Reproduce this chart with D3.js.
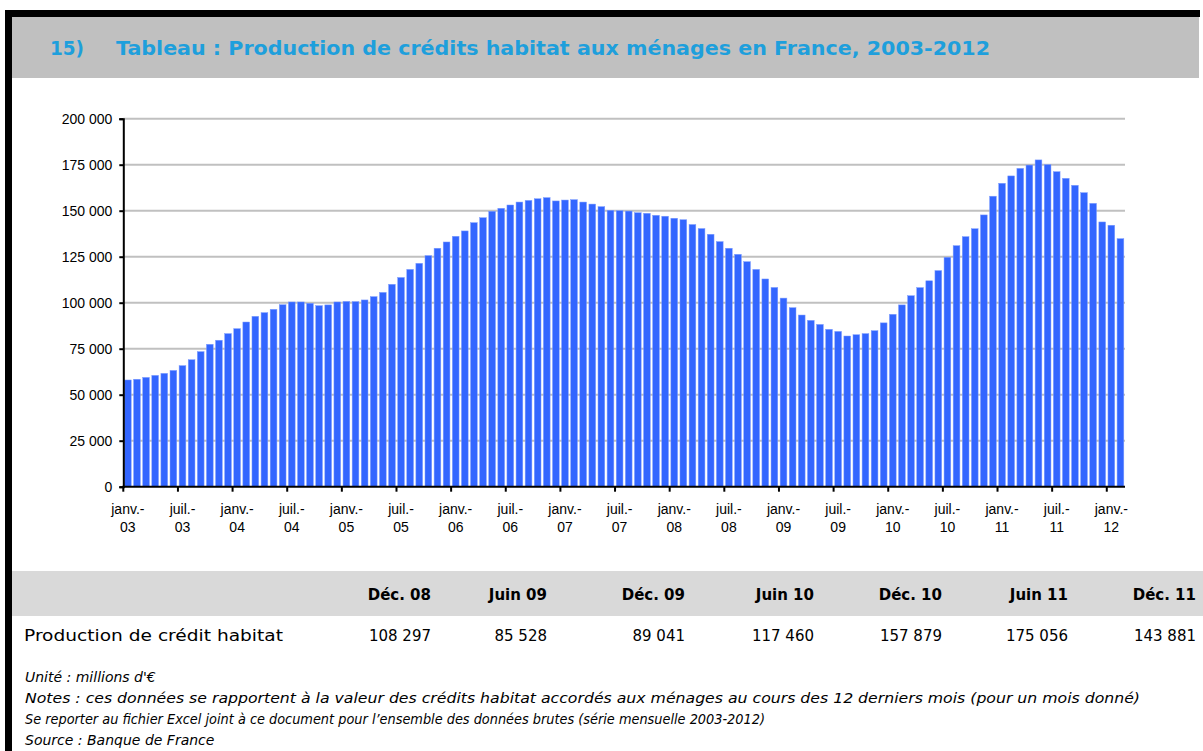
<!DOCTYPE html>
<html>
<head>
<meta charset="utf-8">
<script src="https://cdn.jsdelivr.net/npm/d3@7"></script>
<style>
  body { margin: 0; background: #fff; }
  svg { display: block; }
</style>
</head>
<body>
<svg id="chart" width="1203" height="751"></svg>
<script>
// categories : one bar per month, janv. 2003 -> févr. 2012
const years = ["03", "04", "05", "06", "07", "08", "09", "10", "11", "12"];
const monthNames = ["janv.", "févr.", "mars", "avr.", "mai", "juin", "juil.", "août", "sept.", "oct.", "nov.", "déc."];
const lastYearMonths = 2;

// production de crédit habitat (millions d'€, cumul 12 mois)
const values = [
  58000, 58400, 59400, 60500, 61600, 63200, 65800, 69000, 73400, 77400, 79600, 83200,
  85900, 89500, 92600, 94600, 96400, 98900, 100400, 100400, 99700, 98400, 98800, 100400,
  100700, 100600, 101500, 103300, 105600, 110000, 113700, 118100, 121400, 125600, 129600, 133000,
  136100, 139000, 143500, 146200, 149700, 151300, 153100, 154700, 155600, 156500, 157100, 155300,
  155800, 156000, 154700, 153600, 152200, 150200, 150000, 149800, 148900, 148600, 147500, 147000,
  145900, 145100, 142500, 140300, 137200, 133200, 129600, 126300, 122300, 118100, 112900, 108297,
  102500, 97300, 93300, 90400, 88200, 85528, 84400, 81900, 82600, 83200, 84800, 89041,
  93700, 98800, 103800, 108200, 111900, 117460, 124700, 131000, 135900, 140200, 147700, 157879,
  164900, 168900, 173000, 174800, 177600, 175056, 171200, 167600, 163800, 159800, 154000, 143881,
  142100, 134800
];

const yTicks = [0, 25000, 50000, 75000, 100000, 125000, 150000, 175000, 200000];

// table under the chart
const tableHeads = ["Déc. 08", "Juin 09", "Déc. 09", "Juin 10", "Déc. 10", "Juin 11", "Déc. 11"];
const tableValues = ["108 297", "85 528", "89 041", "117 460", "157 879", "175 056", "143 881"];
const tableRowLabel = "Production de crédit habitat";

const titleNum = "15)";
const titleText = "Tableau : Production de crédits habitat aux ménages en France, 2003-2012";
const notes = [
  "Unité : millions d'€",
  "Notes : ces données se rapportent à la valeur des crédits habitat accordés aux ménages au cours des 12 derniers mois (pour un mois donné)",
  "Se reporter au fichier Excel joint à ce document pour l’ensemble des données brutes (série mensuelle 2003-2012)",
  "Source : Banque de France"
];

// build month keys
let months = [];
years.forEach(function(y, i) {
  let n = (i === years.length - 1) ? lastYearMonths : 12;
  for (let m = 0; m < n; m++) months.push({key: y + "-" + m, year: y, m: m});
});
let data = months.map(function(d, i) { return {key: d.key, year: d.year, m: d.m, value: values[i]}; });

const svg = d3.select("#chart");
const baseFont = "'Liberation Sans', Arial, sans-serif";
const gothic = "'DejaVu Sans', 'Noto Sans', sans-serif";

// frame + title band
svg.append("rect").attr("x", 5).attr("y", 10).attr("width", 1195).attr("height", 7).attr("fill", "#000");
svg.append("rect").attr("x", 5).attr("y", 10).attr("width", 7).attr("height", 741).attr("fill", "#000");
svg.append("rect").attr("x", 12).attr("y", 17).attr("width", 1187).attr("height", 61).attr("fill", "#c0c0c0");
svg.append("text").attr("x", 50).attr("y", 55)
  .attr("font-family", gothic).attr("font-weight", "bold").attr("font-size", 19)
  .attr("fill", "#1e9fdc").attr("textLength", 34).attr("lengthAdjust", "spacingAndGlyphs")
  .text(titleNum);
svg.append("text").attr("x", 116).attr("y", 55)
  .attr("font-family", gothic).attr("font-weight", "bold").attr("font-size", 19)
  .attr("fill", "#1e9fdc").attr("textLength", 874).attr("lengthAdjust", "spacingAndGlyphs")
  .text(titleText);

// chart
const x = d3.scaleBand().domain(data.map(d => d.key)).range([123.3, 1125])
  .paddingInner(0.26).paddingOuter(0.13);
const y = d3.scaleLinear().domain([0, 200000]).range([486.7, 118.7]);
const half = (x.step() - x.bandwidth()) / 2;

const plot = svg.append("g");

plot.selectAll("line.grid").data(yTicks.filter(d => d > 0)).enter().append("line")
  .attr("class", "grid")
  .attr("x1", 123.3).attr("x2", 1125)
  .attr("y1", d => y(d)).attr("y2", d => y(d))
  .attr("stroke", "#c0c0c0").attr("stroke-width", 2);

plot.selectAll("rect.bar").data(data).enter().append("rect")
  .attr("class", "bar")
  .attr("x", d => x(d.key))
  .attr("width", x.bandwidth())
  .attr("y", d => y(d.value))
  .attr("height", d => y(0) - y(d.value))
  .attr("fill", "#3366ff")
  .attr("stroke", "#7f9dff").attr("stroke-width", 0.5);

// y axis
const yAxis = d3.axisLeft(y).tickValues(yTicks).tickSize(4).tickPadding(7)
  .tickFormat(d => d3.format(",")(d).replace(/,/g, " "));
const yg = svg.append("g").attr("transform", "translate(123.3,0)").call(yAxis);
yg.select(".domain").attr("stroke", "#000").attr("stroke-width", 2);
yg.selectAll(".tick line").attr("stroke", "#000").attr("stroke-width", 2);
yg.selectAll(".tick text").attr("font-family", baseFont).attr("font-size", 14).attr("fill", "#000");

// x axis : ticks on category boundaries every 6 months
svg.append("line").attr("x1", 122.3).attr("x2", 1125).attr("y1", y(0)).attr("y2", y(0))
  .attr("stroke", "#000").attr("stroke-width", 2);
const labelled = data.filter(d => d.m === 0 || d.m === 6);
svg.selectAll("line.xtick").data(labelled).enter().append("line")
  .attr("class", "xtick")
  .attr("x1", d => x(d.key) - half).attr("x2", d => x(d.key) - half)
  .attr("y1", y(0)).attr("y2", y(0) + 5)
  .attr("stroke", "#000").attr("stroke-width", 2);
const xl = svg.selectAll("text.xlab").data(labelled).enter().append("text")
  .attr("class", "xlab")
  .attr("text-anchor", "middle")
  .attr("font-family", baseFont).attr("font-size", 14).attr("fill", "#000")
  .attr("transform", d => "translate(" + (x(d.key) + x.bandwidth() / 2) + ",514)");
xl.append("tspan").attr("x", 0).attr("y", 0).text(d => monthNames[d.m] + "-");
xl.append("tspan").attr("x", 0).attr("y", 18).text(d => d.year);

// table
svg.append("rect").attr("x", 12).attr("y", 571).attr("width", 1191).attr("height", 45).attr("fill", "#d9d9d9");
const colRight = d3.scaleOrdinal().domain(tableHeads).range([431, 547, 685, 814, 942, 1068, 1196]);
svg.selectAll("text.thead").data(tableHeads).enter().append("text")
  .attr("class", "thead")
  .attr("x", d => colRight(d)).attr("y", 600)
  .attr("text-anchor", "end")
  .attr("font-family", gothic).attr("font-weight", "bold").attr("font-size", 15).attr("fill", "#000")
  .text(d => d);
svg.selectAll("text.tval").data(tableValues).enter().append("text")
  .attr("class", "tval")
  .attr("x", (d, i) => colRight(tableHeads[i])).attr("y", 641)
  .attr("text-anchor", "end")
  .attr("font-family", gothic).attr("font-size", 15).attr("fill", "#000")
  .text(d => d);
svg.append("text").attr("x", 24).attr("y", 641)
  .attr("font-family", gothic).attr("font-size", 15).attr("fill", "#000")
  .attr("textLength", 259).attr("lengthAdjust", "spacingAndGlyphs")
  .text(tableRowLabel);

// notes (the two long lines are fitted to the source widths)
const noteWidths = [null, 1115, 740, null];
svg.selectAll("text.note").data(notes).enter().append("text")
  .attr("class", "note")
  .attr("x", 25).attr("y", (d, i) => 682 + i * 21)
  .attr("font-family", gothic).attr("font-style", "italic").attr("font-size", 14).attr("fill", "#000")
  .each(function(d, i) {
    if (noteWidths[i]) d3.select(this).attr("textLength", noteWidths[i]).attr("lengthAdjust", "spacingAndGlyphs");
  })
  .text(d => d);
</script>
</body>
</html>
